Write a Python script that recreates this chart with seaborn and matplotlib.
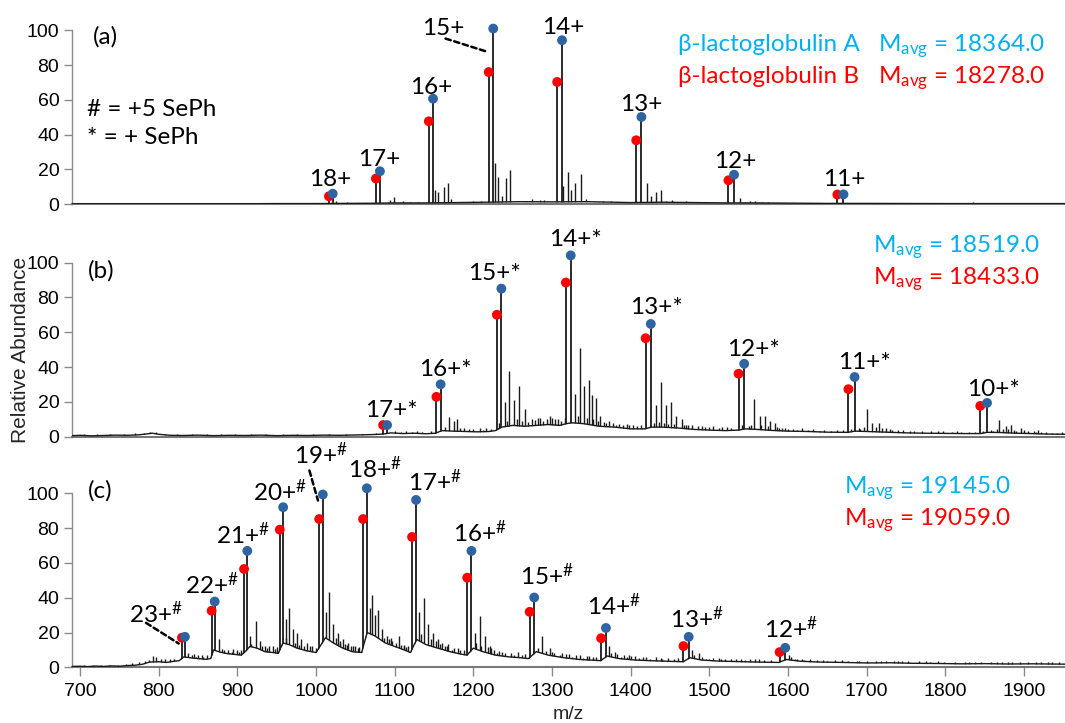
import sys
import numpy as np
import pandas as pd
import matplotlib
matplotlib.use("Agg")
import matplotlib.pyplot as plt
import matplotlib.transforms as mtrans
import seaborn as sns

# ---------------- data ----------------
# Panel (a): native beta-lactoglobulin A / B
a_charges = ["18+", "17+", "16+", "15+", "14+", "13+", "12+", "11+"]
a_mz_A = [1021.23, 1081.24, 1148.76, 1225.27, 1312.72, 1413.62, 1531.34, 1670.46]
a_int_A = [6.1, 19.0, 60.7, 101.0, 94.3, 50.2, 17.0, 5.7]
a_mz_B = [1016.45, 1076.18, 1143.38, 1219.54, 1306.58, 1407.01, 1524.17, 1662.64]
a_int_B = [4.6, 14.8, 47.7, 76.0, 70.3, 36.8, 13.8, 5.6]
a_minor_mz = [958, 1026, 1094, 1099, 1151.8, 1155, 1162.8, 1168, 1171.5, 1184.6, 1193,
              1227.5, 1231.9, 1236.7, 1241, 1246.3, 1263.8, 1268,
              1314, 1319.7, 1323.7, 1329.2, 1337, 1343, 1355, 1359.5,
              1420.5, 1425.8, 1432.3, 1438.8, 1445.3, 1462.7,
              1538.7, 1551.7, 1558, 1566.9, 1835]
a_minor_int = [1.0, 2.0, 2.7, 4.2, 8.0, 7.0, 10.0, 12.3, 3.0, 1.2, 1.2,
               23.5, 15.8, 5.0, 15.4, 19.6, 1.5, 1.5,
               10.6, 18.3, 8.0, 12.0, 17.3, 3.0, 1.5, 1.2,
               12.0, 5.0, 7.3, 8.0, 2.0, 1.5,
               3.8, 2.0, 2.0, 1.5, 1.5]
a_noise_mz = [965, 1040, 1060, 1110, 1120, 1130, 1200, 1210, 1275, 1285, 1290, 1365,
              1375, 1390, 1452, 1470, 1490, 1545, 1575, 1680, 1720, 1760, 1870]
a_noise_int = [1.0, 1.2, 1.0, 1.8, 1.5, 1.4, 2.0, 1.8, 3.0, 2.5, 2.2, 2.0,
               1.8, 1.5, 2.5, 2.0, 1.5, 1.5, 1.2, 1.0, 0.8, 0.8, 0.9]
a_base_mz = [689.5, 800, 900, 950, 1000, 1030, 1070, 1100, 1140, 1180, 1215, 1260, 1300,
             1345, 1400, 1440, 1520, 1560, 1650, 1700, 1800, 1900, 1952]
a_base_int = [0.3, 0.3, 0.3, 0.4, 0.4, 0.5, 0.6, 0.8, 0.8, 1.0, 1.2, 1.5, 1.4,
              1.5, 1.0, 1.2, 0.8, 0.8, 0.5, 0.5, 0.4, 0.4, 0.4]

# Panel (b): + SePh
b_charges = ["17+*", "16+*", "15+*", "14+*", "13+*", "12+*", "11+*", "10+*"]
b_mz_A = [1090.36, 1158.44, 1235.61, 1323.79, 1425.55, 1544.26, 1684.55, 1852.91]
b_int_A = [6.7, 30.1, 85.1, 104.2, 64.8, 41.9, 34.3, 19.4]
b_mz_B = [1085.30, 1153.07, 1229.87, 1317.65, 1418.93, 1537.09, 1676.73, 1844.31]
b_int_B = [6.7, 22.9, 70.1, 88.6, 56.6, 36.2, 27.3, 17.7]
b_minor_mz = [1100, 1108, 1122, 1135, 1146, 1168.9, 1175.5, 1179.8, 1188.6, 1195,
              1200, 1212, 1222, 1240, 1245.7, 1251.8, 1257.5, 1266.2, 1275,
              1282, 1289, 1297, 1304, 1312, 1329, 1335.5, 1341.1, 1347.2, 1350.7,
              1356.3, 1361.5, 1372.4, 1381, 1390, 1398, 1408,
              1432.1, 1438.6, 1445, 1451.6, 1458, 1464.6, 1473, 1490, 1500, 1512, 1522,
              1557.3, 1563.8, 1570.3, 1576.8, 1583.3, 1592, 1600, 1612, 1625, 1640, 1655,
              1700.6, 1707.1, 1715.8, 1724.5, 1740, 1760, 1790, 1820,
              1868, 1876.8, 1883.3, 1896.3, 1915, 1935]
b_minor_int = [3.0, 2.5, 2.8, 2.6, 3.0, 11.4, 9.0, 10.0, 5.0, 3.0,
               4.5, 4.0, 4.2, 20.0, 38.0, 21.0, 29.0, 16.0, 10.0,
               11.0, 9.0, 12.0, 10.0, 9.0, 24.8, 51.0, 29.0, 32.8, 24.0,
               22.0, 12.0, 9.0, 7.0, 7.0, 6.5, 6.0,
               18.0, 31.4, 18.0, 20.0, 12.0, 10.0, 7.0, 6.0, 5.5, 5.0, 5.5,
               21.5, 12.0, 12.0, 9.0, 8.0, 5.0, 4.5, 4.0, 4.0, 3.5, 3.5,
               16.0, 8.0, 8.0, 5.0, 4.0, 3.0, 3.0, 2.8,
               9.5, 6.0, 7.0, 5.0, 2.5, 2.2]
b_noise_mz = [705, 722, 738, 756, 770, 781, 789, 797, 808, 823, 842, 861, 879, 897, 918,
              937, 958, 976, 996, 1016, 1038, 1058, 1076, 1114, 1129, 1164, 1183, 1194,
              1208, 1216, 1262, 1270, 1278, 1316, 1366, 1377, 1385, 1403, 1413, 1470,
              1485, 1495, 1505, 1516, 1528, 1550, 1588, 1596, 1606, 1618, 1632, 1646,
              1662, 1670, 1692, 1732, 1746, 1755, 1770, 1782, 1797, 1808, 1815, 1830,
              1838, 1860, 1890, 1905, 1922, 1928, 1942,
              1232, 1243, 1255, 1285, 1293, 1300, 1308, 1333, 1344, 1352, 1358, 1368,
              1395, 1430, 1436, 1442, 1448, 1455, 1468, 1478, 1541, 1553, 1566, 1574,
              1586, 1680, 1690, 1696, 1712, 1720, 1730, 1848, 1858, 1865, 1873, 1880,
              1887, 1900, 1912, 1918, 1948]
b_noise_int = [1.6, 1.5, 1.7, 1.6, 1.9, 2.3, 2.6, 2.8, 1.8, 1.5, 1.6, 1.5, 1.7, 1.4, 1.6,
               1.5, 1.6, 1.5, 1.6, 1.7, 1.6, 1.8, 2.0, 3.0, 3.2, 5.5, 5.0, 4.6,
               4.8, 5.0, 9.0, 8.5, 9.5, 10.5, 8.5, 8.0, 7.5, 6.5, 6.8, 6.5,
               6.0, 5.8, 6.2, 5.5, 5.2, 6.0, 5.0, 5.2, 4.6, 4.8, 4.4, 4.0,
               3.8, 4.0, 4.5, 3.8, 3.6, 3.4, 3.2, 3.0, 3.0, 2.8, 3.0, 2.8,
               2.7, 3.5, 3.5, 3.0, 2.6, 2.8, 2.4,
               8.0, 9.0, 10.0, 10.5, 10.0, 10.5, 10.0, 12.0, 10.5, 10.0, 9.0, 8.0,
               7.5, 8.0, 8.5, 8.0, 7.5, 7.5, 7.0, 6.5, 6.5, 7.0, 6.5, 6.0,
               5.5, 4.5, 5.0, 5.5, 5.5, 5.0, 4.5, 3.5, 4.0, 4.5, 4.5, 4.2,
               4.0, 3.8, 3.4, 3.6, 2.6]
b_base_mz = [689.5, 700, 715, 730, 745, 760, 775, 785, 792, 800, 815, 830, 850, 870, 890,
             910, 930, 950, 970, 990, 1010, 1030, 1050, 1070, 1085, 1095, 1110, 1125,
             1140, 1152, 1160, 1175, 1190, 1205, 1220, 1228, 1236, 1250, 1265, 1280,
             1295, 1310, 1318, 1325, 1340, 1360, 1380, 1400, 1418, 1426, 1440, 1460,
             1480, 1500, 1520, 1537, 1545, 1560, 1580, 1600, 1625, 1650, 1676, 1685,
             1700, 1725, 1750, 1775, 1800, 1825, 1844, 1853, 1870, 1890, 1910, 1930, 1952]
b_base_int = [0.6, 0.8, 0.5, 0.7, 0.9, 0.8, 1.1, 1.6, 2.0, 1.4, 0.8, 0.7, 0.9, 0.6, 0.8,
              0.7, 0.9, 0.6, 0.8, 0.7, 0.9, 0.8, 1.0, 1.2, 1.5, 2.2, 1.8, 2.0,
              1.7, 2.0, 3.5, 3.2, 3.0, 2.8, 3.0, 3.5, 5.5, 6.5, 6.0, 6.5,
              7.0, 6.5, 7.5, 8.0, 7.5, 6.0, 5.5, 4.5, 4.5, 5.5, 5.5, 5.0,
              4.2, 3.8, 3.5, 3.8, 4.5, 4.2, 3.6, 3.2, 3.0, 2.6, 2.5, 3.2,
              3.0, 2.6, 2.2, 2.0, 1.9, 1.8, 1.8, 2.5, 2.4, 2.0, 1.8, 1.5, 1.4]

# Panel (c): + 5 SePh
c_charges = ["23+", "22+", "21+", "20+", "19+", "18+", "17+", "16+", "15+", "14+", "13+", "12+"]
c_mz_A = [833.40, 871.23, 912.67, 958.26, 1008.64, 1064.62, 1127.18, 1197.57,
          1277.34, 1368.51, 1473.70, 1596.42]
c_int_A = [17.5, 37.8, 66.9, 92.0, 99.3, 102.9, 96.2, 66.9, 40.1, 22.6, 17.5, 11.2]
c_mz_B = [829.66, 867.33, 908.58, 953.96, 1004.11, 1059.84, 1122.12, 1192.19,
          1271.61, 1362.36, 1467.08, 1589.26]
c_int_B = [17.0, 32.5, 56.5, 79.1, 85.2, 85.2, 74.9, 51.5, 31.9, 16.7, 12.2, 8.7]
c_minor_mz = [788.3, 792.7, 796.2, 815, 837.8, 855, 876.9, 883.5, 890, 900,
              915.7, 923.2, 928.9, 935.5, 945, 961.8, 965.3, 970.6, 975.8, 981.5, 988, 995,
              1012.5, 1016.9, 1021.3, 1027.8, 1034.4, 1040, 1041, 1047.5, 1050,
              1068.1, 1071.6, 1075.5, 1079, 1083.4, 1090, 1096.5, 1105.3, 1111.8, 1112,
              1131.1, 1136.8, 1142.1, 1148.6, 1155.2, 1163.9, 1172.6, 1180,
              1201.5, 1208.1, 1214.6, 1221.2, 1230, 1240, 1252, 1262,
              1286.9, 1297.9, 1310, 1325, 1340, 1372.8, 1380.6, 1388, 1395, 1410, 1425,
              1440, 1455, 1478, 1486.7, 1495.4, 1500, 1520, 1545, 1570,
              1600.7, 1609.4, 1620, 1650, 1690, 1740, 1780, 1830, 1880, 1930]
c_minor_int = [4.0, 6.5, 6.0, 4.5, 8.4, 7.0, 16.0, 10.0, 8.0, 10.0,
               17.9, 26.4, 15.0, 12.0, 12.0, 28.0, 34.0, 22.0, 20.0, 16.0, 14.0, 12.0,
               32.0, 43.5, 25.0, 20.0, 16.0, 13.0, 14.0, 12.0, 12.0,
               34.0, 41.6, 30.0, 33.0, 22.0, 18.0, 15.0, 18.0, 12.0, 13.0,
               32.0, 39.7, 25.0, 20.0, 16.0, 12.0, 10.0, 11.0,
               20.0, 29.3, 18.0, 12.0, 8.0, 8.0, 7.0, 7.0,
               18.0, 11.0, 7.0, 6.0, 5.5, 12.0, 9.0, 6.0, 6.0, 5.5, 5.0,
               5.0, 4.5, 10.0, 8.0, 5.0, 5.0, 4.5, 4.0, 4.0,
               7.0, 5.0, 4.0, 3.5, 3.5, 3.8, 3.0, 3.0, 2.8, 2.8]
c_noise_mz = [705, 716, 727, 737, 748, 758, 766, 775, 783, 803, 808, 820, 845, 850, 862,
              895, 905, 940, 950, 985, 1000, 1030, 1055, 1095, 1117, 1160, 1168, 1188,
              1222, 1233, 1248, 1257, 1266, 1303, 1318, 1330, 1347, 1356, 1392, 1400,
              1415, 1432, 1448, 1460, 1505, 1515, 1528, 1540, 1552, 1563, 1578, 1612,
              1628, 1637, 1660, 1676, 1700, 1712, 1725, 1752, 1766, 1798, 1812, 1845,
              1858, 1872, 1895, 1905, 1922, 1945,
              842, 848, 856, 880, 888, 893, 902, 918, 932, 938, 948, 962, 973, 979, 992,
              1007, 1025, 1031, 1037, 1044, 1053, 1086, 1093, 1102, 1108, 1115, 1133,
              1146, 1152, 1158, 1166, 1176, 1183, 1204, 1210, 1218, 1226, 1237, 1282,
              1292, 1300, 1313, 1322, 1336, 1344, 1352, 1375, 1383, 1398, 1406, 1420,
              1438, 1480, 1490, 1512, 1534, 1558, 1604, 1618, 1645, 1668, 1688, 1718,
              1735, 1745, 1775, 1790, 1825, 1838, 1865, 1885, 1915, 1935]
c_noise_int = [1.3, 1.2, 1.4, 1.3, 1.5, 1.8, 2.2, 2.8, 3.4, 5.0, 4.6, 5.0, 7.5, 7.2, 6.8,
               10.5, 10.0, 12.0, 11.5, 12.5, 11.0, 14.0, 11.5, 17.0, 12.0, 14.0, 13.5, 10.0,
               11.0, 9.5, 8.5, 8.8, 7.8, 8.5, 7.8, 7.0, 6.5, 6.2, 7.2, 6.6,
               6.0, 5.8, 5.5, 5.2, 5.4, 5.0, 5.0, 4.8, 4.6, 4.5, 4.3, 4.8,
               4.5, 4.2, 4.0, 3.9, 3.8, 3.6, 3.5, 3.4, 3.5, 3.2, 3.3, 3.1,
               3.2, 3.0, 3.0, 3.1, 2.9, 2.8,
               7.0, 6.2, 6.0, 10.5, 9.8, 9.0, 9.0, 13.5, 12.0, 11.0, 10.5, 17.0, 14.0, 13.0, 12.0,
               14.0, 17.0, 15.0, 13.5, 12.5, 11.0, 17.0, 16.0, 14.0, 13.0, 11.5, 19.0,
               16.0, 15.0, 13.5, 12.5, 11.0, 10.0, 14.0, 12.0, 11.5, 10.0, 9.0, 11.0,
               9.5, 9.0, 8.0, 7.5, 6.8, 6.5, 5.8, 8.5, 7.5, 6.8, 6.5, 5.8,
               5.6, 7.0, 6.0, 5.2, 4.9, 4.6, 6.0, 5.0, 4.2, 4.0, 3.9, 3.8,
               3.9, 3.7, 3.5, 3.4, 3.3, 3.3, 3.1, 3.1, 3.0, 3.0]
c_base_mz = [689.5, 700, 710, 720, 730, 740, 750, 760, 770, 780, 788, 800, 810, 820, 826,
             832, 840, 850, 860, 866, 870, 876, 885, 895, 905, 910, 916, 925, 935, 945,
             952, 958, 966, 976, 988, 1000, 1005, 1012, 1022, 1034, 1046, 1058, 1065,
             1075, 1088, 1100, 1112, 1120, 1128, 1140, 1155, 1170, 1185, 1192, 1200,
             1212, 1228, 1245, 1260, 1270, 1280, 1295, 1315, 1335, 1355, 1362, 1370,
             1385, 1405, 1425, 1445, 1467, 1475, 1490, 1510, 1535, 1560, 1588, 1598,
             1615, 1640, 1670, 1700, 1730, 1760, 1790, 1820, 1850, 1880, 1910, 1952]
c_base_int = [0.5, 0.6, 0.4, 0.7, 0.5, 0.8, 0.6, 1.0, 1.2, 1.8, 3.0, 3.2, 2.8, 3.5, 3.8,
              6.0, 5.5, 5.0, 4.6, 5.0, 10.0, 9.0, 8.0, 7.5, 7.0, 9.0, 12.0, 11.0, 9.0, 8.5,
              8.0, 14.0, 13.0, 11.0, 9.5, 8.5, 12.0, 17.0, 14.0, 11.0, 9.0, 8.5, 20.0,
              18.0, 14.0, 12.0, 10.0, 8.5, 16.0, 13.0, 11.0, 9.0, 7.5, 7.0, 11.0,
              9.0, 7.0, 6.0, 5.5, 5.0, 9.0, 7.0, 5.5, 4.5, 4.0, 3.8, 6.5,
              5.0, 4.2, 3.8, 3.5, 3.2, 5.5, 4.2, 3.6, 3.3, 3.0, 2.8, 4.5,
              3.5, 3.0, 2.8, 2.5, 2.6, 2.3, 2.2, 2.0, 2.1, 1.9, 2.0, 1.8]

x_ticks = [700, 800, 900, 1000, 1100, 1200, 1300, 1400, 1500, 1600, 1700, 1800, 1900]
y_ticks = [0, 20, 40, 60, 80, 100]

# ---------------- style ----------------
sns.set_theme(style="ticks")
plt.rcParams["font.family"] = ["Liberation Sans", "DejaVu Sans"]
plt.rcParams["mathtext.default"] = "regular"
ANN = ["Lato", "Noto Sans", "DejaVu Sans"]
FS = 17.5
DOT_A = "#2F64A3"
DOT_B = "#FF0000"
TXT_A = "#00B0F0"
TXT_B = "#FF0000"
LINE = "#1a1a1a"

W, H = 1065, 723
fig = plt.figure(figsize=(W / 100, H / 100), dpi=100)
left = 71.7 / W
width = 1 - left
hgt = 174 / H
ax_a = fig.add_axes([left, 1 - 204.3 / H, width, hgt])
ax_b = fig.add_axes([left, 1 - 436.7 / H, width, hgt])
ax_c = fig.add_axes([left, 1 - 667.3 / H, width, hgt])


def panel(ax, base_mz, base_int, mzA, iA, mzB, iB, mmz, mint, nmz, nint):
    ax.vlines(mzA + mzB, 0, iA + iB, color=LINE, lw=1.3, clip_on=False, zorder=2.2)
    ax.vlines(mmz + nmz, 0, mint + nint, color=LINE, lw=1.0, clip_on=False, zorder=2.2)
    ax.fill_between(base_mz, 0, base_int, color="white", lw=0, zorder=2.3)
    sns.lineplot(x=base_mz, y=base_int, ax=ax, color=LINE, lw=1.0,
                 sort=False, estimator=None, zorder=2.6)
    df = pd.DataFrame({"mz": mzB + mzA, "I": iB + iA,
                       "form": ["B"] * len(mzB) + ["A"] * len(mzA)})
    sns.scatterplot(data=df, x="mz", y="I", hue="form",
                    palette={"A": DOT_A, "B": DOT_B}, s=50, edgecolor="none",
                    legend=False, ax=ax, zorder=4, clip_on=False)
    ax.set_xlim(689.5, 1952)
    ax.set_ylim(0, 100)
    ax.set_yticks(y_ticks)
    ax.set_xlabel("")
    ax.set_ylabel("")
    for s in ["top", "right"]:
        ax.spines[s].set_visible(False)
    ax.spines["left"].set_color("#8a8a8a")
    ax.spines["left"].set_linewidth(1.0)
    ax.spines["bottom"].set_color("#777777")
    ax.spines["bottom"].set_linewidth(1.5)
    ax.tick_params(axis="y", length=6, width=1, color="#8a8a8a", pad=2.9,
                   labelsize=14, labelcolor="black")
    ax.patch.set_alpha(0)


panel(ax_a, a_base_mz, a_base_int, a_mz_A, a_int_A, a_mz_B, a_int_B,
      a_minor_mz, a_minor_int, a_noise_mz, a_noise_int)
panel(ax_b, b_base_mz, b_base_int, b_mz_A, b_int_A, b_mz_B, b_int_B,
      b_minor_mz, b_minor_int, b_noise_mz, b_noise_int)
panel(ax_c, c_base_mz, c_base_int, c_mz_A, c_int_A, c_mz_B, c_int_B,
      c_minor_mz, c_minor_int, c_noise_mz, c_noise_int)

for ax in (ax_a, ax_b):
    ax.tick_params(axis="x", bottom=False, labelbottom=False)
ax_c.set_xticks(x_ticks)
ax_c.tick_params(axis="x", length=6.3, width=1, color="#8a8a8a", pad=5,
                 labelsize=14, labelcolor="black")
ax_c.set_xlabel("m/z", fontsize=14, labelpad=4)
ax_b.set_ylabel("Relative Abundance", fontsize=15)
ax_b.yaxis.set_label_coords((30 - 71.7) / (width * W), 0.5)


def px2pt(v):
    return v * 0.72


def label_peaks(ax, labels, mz, inten, offs, sup=None):
    for lab, x, y, (dx, dy) in zip(labels, mz, inten, offs):
        txt = lab if sup is None else lab + sup
        ax.annotate(txt, xy=(x, y), xytext=(px2pt(dx), px2pt(dy - 8.8)),
                    textcoords="offset points", ha="center", va="baseline",
                    fontsize=FS, family=ANN, color="black", annotation_clip=False)


def leader(ax, x, y, start, end):
    t0 = mtrans.offset_copy(ax.transData, fig=fig, x=start[0], y=start[1], units="dots")
    t1 = mtrans.offset_copy(ax.transData, fig=fig, x=end[0], y=end[1], units="dots")
    ax.annotate("", xy=(x, y), xycoords=t1, xytext=(x, y), textcoords=t0,
                arrowprops=dict(arrowstyle="-", color="black", lw=1.8,
                                linestyle=(0, (2.2, 1.4)), shrinkA=0, shrinkB=0),
                annotation_clip=False)


a_offs = [(-2.4, 16.7), (-1, 14.3), (-2, 13.3), (-50, 2.8), (1.7, 15), (0, 15), (1.4, 16), (0.7, 17.3)]
b_offs = [(4.1, 16.7), (4.8, 17.3), (-6.9, 17.7), (4.8, 17.7), (5.8, 18.3), (9.2, 16.7), (9.9, 16.7), (6.5, 16)]
c_offs = [(-28.6, 22.3), (-2.4, 16.7), (-4.1, 15.7), (-3.4, 15), (-1.4, 39), (8.3, 19.3),
          (19.3, 17.7), (8.3, 17.3), (12.6, 21), (7.5, 21.7), (7.8, 17.3), (5.8, 18.3)]
label_peaks(ax_a, a_charges, a_mz_A, a_int_A, a_offs)
label_peaks(ax_b, b_charges, b_mz_A, b_int_A, b_offs)
label_peaks(ax_c, c_charges, c_mz_A, c_int_A, c_offs, sup=r"$^{\#}$")

leader(ax_a, a_mz_A[3], a_int_A[3], (-47.7, -10), (-7.7, -22.7))
leader(ax_c, c_mz_A[0], c_int_A[0], (-38.9, 14), (-6.2, -6.7))
leader(ax_c, c_mz_A[4], c_int_A[4], (-13.4, 24), (-4.8, -6))

txt_kw = dict(fontsize=FS, family=ANN, va="baseline", ha="left")
ax_a.text(716.9, 92.2, "(a)", color="black", **txt_kw)
ax_b.text(709.9, 91.4, "(b)", color="black", **txt_kw)
ax_c.text(709.9, 97.7, "(c)", color="black", **txt_kw)
ax_a.text(709.3, 50.6, "# = +5 SePh", color="black", **txt_kw)
ax_a.text(709.3, 34.7, "* = + SePh", color="black", **txt_kw)

ax_a.text(1460.3, 87.9, "β-lactoglobulin A", color=TXT_A, **txt_kw)
ax_a.text(1460.3, 69.7, "β-lactoglobulin B", color=TXT_B, **txt_kw)
ax_a.text(1714.5, 87.9, r"$M_{avg}$ = 18364.0", color=TXT_A, **txt_kw)
ax_a.text(1714.5, 69.7, r"$M_{avg}$ = 18278.0", color=TXT_B, **txt_kw)
ax_b.text(1707.7, 105.7, r"$M_{avg}$ = 18519.0", color=TXT_A, **txt_kw)
ax_b.text(1707.7, 87.7, r"$M_{avg}$ = 18433.0", color=TXT_B, **txt_kw)
ax_c.text(1671.6, 100.0, r"$M_{avg}$ = 19145.0", color=TXT_A, **txt_kw)
ax_c.text(1671.6, 81.8, r"$M_{avg}$ = 19059.0", color=TXT_B, **txt_kw)

fig.savefig("out.png", dpi=100)
